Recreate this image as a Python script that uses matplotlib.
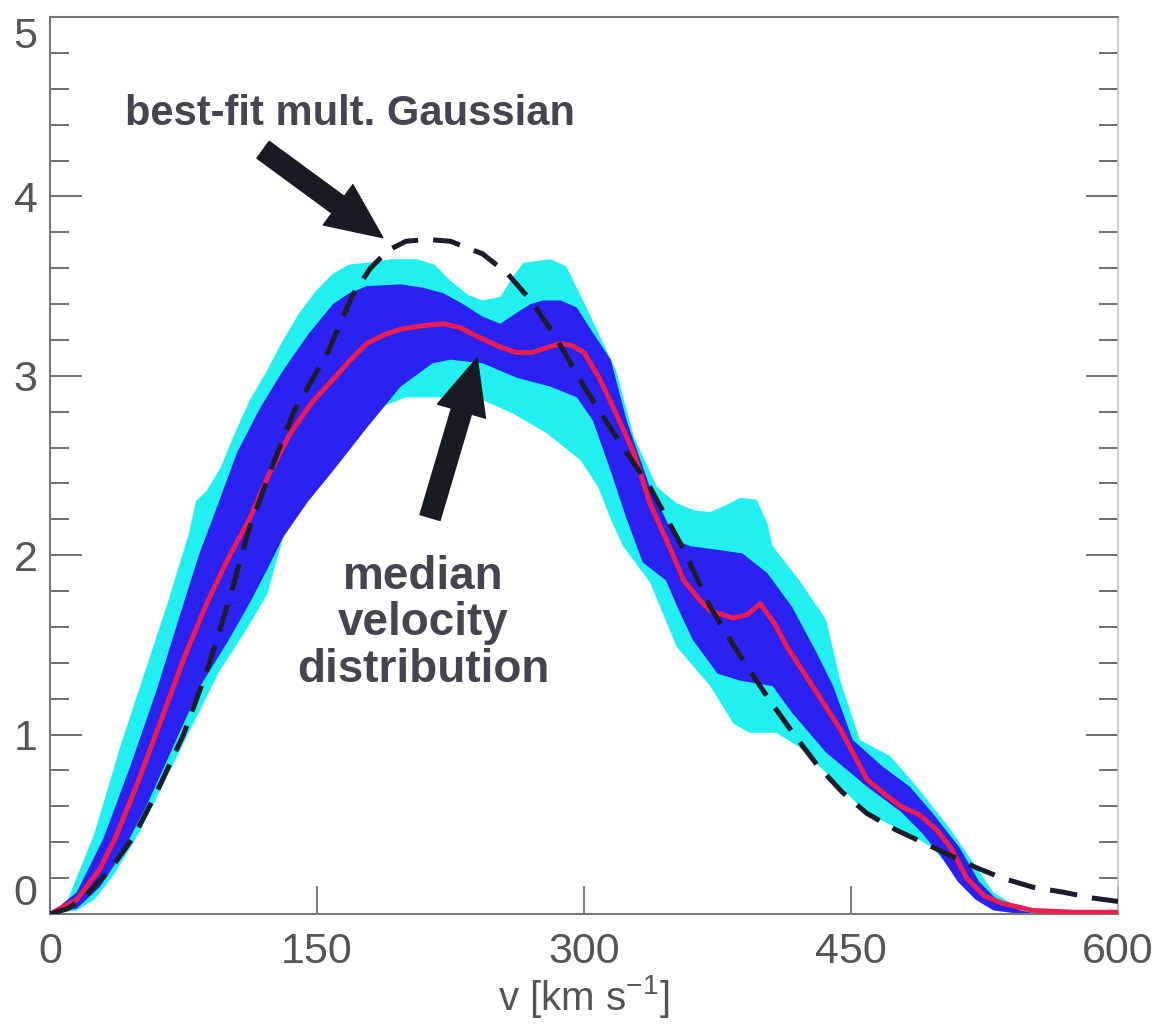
import matplotlib
matplotlib.use("Agg")
import matplotlib.pyplot as plt
import numpy as np

plt.rcParams['font.family'] = ['Liberation Sans', 'DejaVu Sans']
plt.rcParams['mathtext.default'] = 'regular'

# ---------------------------------------------------------------
# Data (v in km/s, y arbitrary)

# outer band (cyan), upper and lower edge
cyan_up_v = [0, 10, 25, 40, 55, 66, 78, 82, 88, 96, 103, 112, 122, 131, 140, 150, 159, 168, 178,
             192, 206, 216, 225, 235, 243, 253, 260, 266, 281, 290, 300, 309, 318, 328, 341, 352,
             362, 371, 380, 388, 397, 403, 406, 421, 436, 444, 455, 472, 487, 506, 519, 530, 545, 555]
cyan_up_y = [0, 0.08, 0.45, 0.95, 1.40, 1.73, 2.12, 2.30, 2.36, 2.49, 2.66, 2.86, 3.03, 3.20, 3.35,
             3.48, 3.57, 3.62, 3.63, 3.65, 3.65, 3.62, 3.53, 3.45, 3.42, 3.44, 3.55, 3.63, 3.65, 3.61,
             3.41, 3.22, 3.03, 2.66, 2.38, 2.29, 2.25, 2.24, 2.28, 2.32, 2.31, 2.18, 2.05, 1.86, 1.64,
             1.30, 0.97, 0.88, 0.71, 0.47, 0.28, 0.12, 0.03, 0]
cyan_lo_v = [0, 15, 25, 36, 50, 65, 80, 95, 110, 122, 131, 146, 159, 172, 187, 200, 213, 228, 242,
             260, 279, 298, 308, 315, 322, 337, 352, 371, 384, 393, 408, 421, 440, 459, 478, 496,
             510, 520, 535, 555]
cyan_lo_y = [0, 0.02, 0.08, 0.22, 0.45, 0.75, 1.05, 1.35, 1.58, 1.78, 2.10, 2.45, 2.66, 2.78, 2.83,
             2.88, 2.88, 2.88, 2.87, 2.79, 2.68, 2.53, 2.38, 2.20, 2.05, 1.85, 1.49, 1.27, 1.06, 1.01,
             1.01, 0.93, 0.75, 0.56, 0.47, 0.37, 0.20, 0.08, 0.02, 0]

# inner band (blue)
blue_up_v = [0, 15, 30, 45, 60, 75, 84, 95, 105, 118, 131, 145, 159, 168, 178, 197, 210, 221, 232,
             243, 253, 262, 270, 277, 287, 296, 305, 315, 324, 337, 352, 360, 375, 389, 403, 417,
             431, 440, 451, 468, 483, 496, 511, 522, 532, 545, 555]
blue_up_y = [0, 0.12, 0.42, 0.82, 1.25, 1.73, 2.01, 2.30, 2.57, 2.82, 3.03, 3.23, 3.40, 3.46, 3.50,
             3.51, 3.49, 3.46, 3.40, 3.33, 3.29, 3.35, 3.40, 3.42, 3.42, 3.38, 3.24, 3.09, 2.75, 2.38,
             2.08, 2.05, 2.03, 2.01, 1.90, 1.71, 1.45, 1.27, 0.97, 0.82, 0.71, 0.56, 0.37, 0.18, 0.08,
             0.02, 0]
blue_lo_v = [0, 15, 28, 40, 55, 70, 85, 100, 112, 122, 131, 145, 159, 178, 197, 215, 225, 243, 262,
             281, 296, 305, 315, 324, 333, 346, 353, 361, 375, 388, 406, 417, 436, 459, 478, 490,
             500, 510, 520, 530, 545]
blue_lo_y = [0, 0.03, 0.15, 0.33, 0.62, 0.95, 1.28, 1.52, 1.73, 1.92, 2.10, 2.30, 2.47, 2.71, 2.94,
             3.07, 3.09, 3.07, 2.99, 2.94, 2.88, 2.75, 2.47, 2.20, 1.96, 1.86, 1.70, 1.53, 1.34, 1.30,
             1.27, 1.12, 0.90, 0.71, 0.57, 0.45, 0.33, 0.18, 0.08, 0.02, 0]

# median velocity distribution (red)
median_v = [0, 15, 28, 37, 50, 65, 75, 88, 100, 112, 123, 135, 147, 159, 168, 178, 188, 197, 210,
            221, 230, 240, 253, 262, 271, 280, 287, 293, 300, 309, 318, 328, 337, 347, 356, 365,
            371, 384, 392, 399, 407, 414, 431, 444, 459, 470, 478, 489, 498, 506, 515, 525, 535,
            552, 575, 600]
median_y = [0, 0.08, 0.25, 0.43, 0.75, 1.15, 1.42, 1.73, 1.98, 2.20, 2.45, 2.68, 2.85, 2.98, 3.08,
            3.18, 3.23, 3.26, 3.28, 3.29, 3.27, 3.22, 3.16, 3.13, 3.13, 3.16, 3.18, 3.17, 3.13, 2.98,
            2.79, 2.57, 2.29, 2.07, 1.86, 1.75, 1.69, 1.65, 1.67, 1.73, 1.62, 1.49, 1.23, 1.03, 0.75,
            0.66, 0.60, 0.55, 0.47, 0.37, 0.20, 0.10, 0.06, 0.02, 0.01, 0.01]

# best-fit multiple Gaussian (dashed)
gauss_v = [0, 10, 20, 34, 47, 60, 75, 88, 100, 112, 125, 137, 156, 170, 180, 190, 200, 212, 225,
           243, 257, 271, 285, 300, 318, 337, 355, 371, 387, 403, 418, 431, 445, 459, 475, 490,
           505, 520, 535, 552, 570, 585, 600]
gauss_y = [0, 0.03, 0.10, 0.25, 0.43, 0.68, 1.00, 1.35, 1.73, 2.15, 2.50, 2.80, 3.13, 3.45, 3.60,
           3.70, 3.75, 3.76, 3.75, 3.68, 3.57, 3.41, 3.20, 2.94, 2.66, 2.38, 2.05, 1.71, 1.45, 1.21,
           1.00, 0.83, 0.68, 0.56, 0.47, 0.40, 0.33, 0.26, 0.20, 0.15, 0.12, 0.09, 0.07]

x_ticks = [0, 150, 300, 450, 600]
y_ticks = [0, 1, 2, 3, 4, 5]

# ---------------------------------------------------------------

fig = plt.figure(figsize=(11.6, 10.25), dpi=100)
ax = fig.add_axes([0.0431, 0.1083, 0.9207, 0.8751])

# bands as closed polygons (upper edge forward, lower edge backward)
ax.fill(np.concatenate([cyan_up_v, cyan_lo_v[::-1]]),
        np.concatenate([cyan_up_y, cyan_lo_y[::-1]]),
        color='#22f0f0', lw=0, zorder=1)
ax.fill(np.concatenate([blue_up_v, blue_lo_v[::-1]]),
        np.concatenate([blue_up_y, blue_lo_y[::-1]]),
        color='#2b22f2', lw=0, zorder=2)
ax.plot(median_v, median_y, color='#f01c50', lw=3.5, zorder=3, solid_capstyle='round')
ax.plot(gauss_v, gauss_y, color='#1c1c2a', lw=3.6, ls=(0, (5.5, 3)), zorder=4)

# annotations
ax.text(168.5, 4.46, 'best-fit mult. Gaussian', fontsize=30, fontweight='bold',
        color='#45454f', ha='center', va='center')
ax.text(209.5, 1.62, 'median\nvelocity\ndistribution', fontsize=33, fontweight='bold',
        color='#45454f', ha='center', va='center', linespacing=1.08)

arrow_style = 'simple,head_length=2.0,head_width=1.8,tail_width=0.75'
ax.annotate('', xy=(187, 3.77), xytext=(119.7, 4.26),
            arrowprops=dict(arrowstyle=arrow_style, color='#1a1a22', mutation_scale=20,
                            shrinkA=0, shrinkB=0), zorder=5)
ax.annotate('', xy=(240, 3.10), xytext=(213.5, 2.21),
            arrowprops=dict(arrowstyle=arrow_style, color='#1a1a22', mutation_scale=20,
                            shrinkA=0, shrinkB=0), zorder=5)

# axes
ax.set_xlim(0, 600)
ax.set_ylim(0, 5)
ax.set_xticks(x_ticks)
ax.set_yticks(y_ticks)
ax.set_yticks(np.arange(0, 5.01, 0.2), minor=True)
ax.tick_params(axis='x', which='major', direction='in', length=20, width=1.2,
               color='#666666', labelcolor='#555555', labelsize=31, pad=13, top=False)
ax.tick_params(axis='y', which='major', direction='in', length=23, width=1.2,
               color='#555555', labelcolor='#555555', labelsize=31, pad=9, right=True)
ax.tick_params(axis='y', which='minor', direction='in', length=14, width=1.2,
               color='#555555', right=True)
ylabels = ax.get_yticklabels()
ylabels[0].set_va('bottom')
ylabels[-1].set_va('top')

for side in ['left', 'bottom', 'top']:
    ax.spines[side].set_color('#777777')
    ax.spines[side].set_linewidth(1.5)
ax.spines['right'].set_color('#c4c4c4')
ax.spines['right'].set_linewidth(1.2)

ax.set_xlabel('v [km s$^{-1}$]', fontsize=29, color='#555555', labelpad=1)

fig.savefig('out.png', dpi=100)
